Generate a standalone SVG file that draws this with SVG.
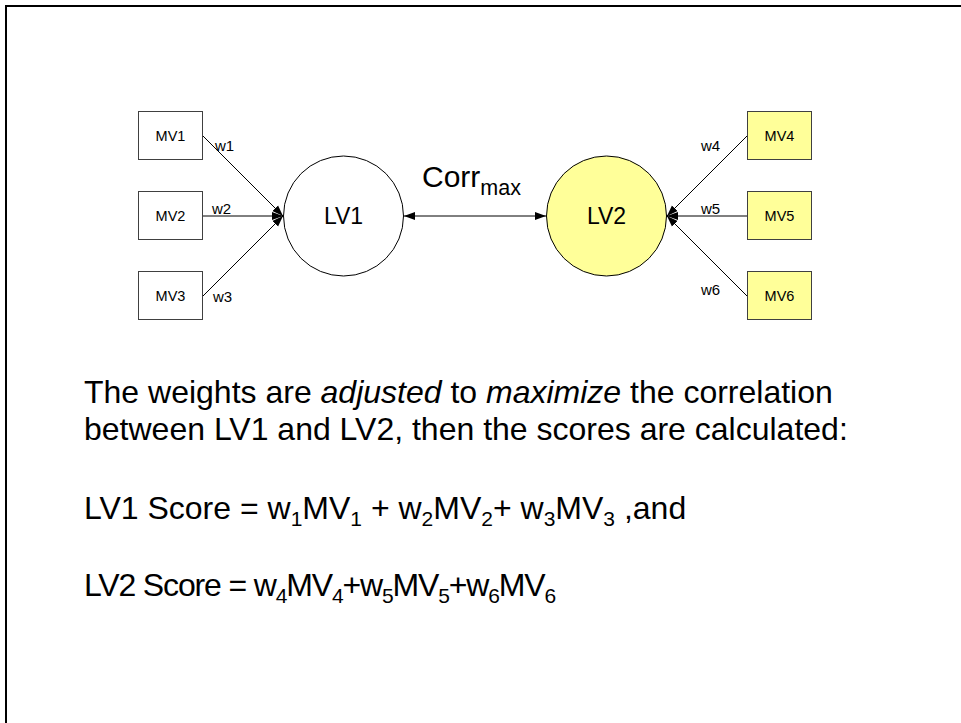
<svg xmlns="http://www.w3.org/2000/svg" width="961" height="723" viewBox="0 0 961 723">
<style>
text{font-family:"Liberation Sans",Arial,sans-serif;fill:#000}
.box{fill:#fff;stroke:#404040;stroke-width:1}
.ybox{fill:#ffff99;stroke:#404040;stroke-width:1}
.mv{font-size:14.5px;text-anchor:middle}
.w{font-size:15px}
.lv{font-size:23px;text-anchor:middle}
.edge{stroke:#000;stroke-width:1;fill:none;marker-end:url(#ah)}
.main{font-size:32px}
</style>
<defs>
<marker id="ah" markerUnits="userSpaceOnUse" markerWidth="11" markerHeight="9" refX="11" refY="4.5" orient="auto-start-reverse">
<path d="M0,0.5 L11,4.5 L0,8.5 z" fill="#000"/>
</marker>
</defs>
<rect x="6" y="6" width="980" height="740" fill="#fff" stroke="#000" stroke-width="2"/>
<g id="connectors">
<line class="edge" x1="203" y1="136" x2="283" y2="216"/>
<line class="edge" x1="203" y1="216" x2="283" y2="216"/>
<line class="edge" x1="203" y1="296" x2="283" y2="216"/>
<line class="edge" x1="747" y1="136" x2="667" y2="216"/>
<line class="edge" x1="747" y1="216" x2="667" y2="216"/>
<line class="edge" x1="747" y1="296" x2="667" y2="216"/>
<line class="edge" x1="404" y1="216" x2="546" y2="216" style="marker-start:url(#ah)"/>
<text class="w" x="215" y="151">w1</text>
<text class="w" x="212" y="214">w2</text>
<text class="w" x="213" y="302">w3</text>
<text class="w" x="701" y="151">w4</text>
<text class="w" x="701" y="214">w5</text>
<text class="w" x="701" y="295">w6</text>
<text x="422" y="187" font-size="30">Corr<tspan font-size="21.5" dy="8">max</tspan></text>
</g>
<g id="MV1"><rect class="box" x="138.5" y="111.5" width="64" height="48"/><text class="mv" x="170.5" y="141">MV1</text></g>
<g id="MV2"><rect class="box" x="138.5" y="191.5" width="64" height="48"/><text class="mv" x="170.5" y="221">MV2</text></g>
<g id="MV3"><rect class="box" x="138.5" y="271.5" width="64" height="48"/><text class="mv" x="170.5" y="301">MV3</text></g>
<g id="MV4"><rect class="ybox" x="747.5" y="111.5" width="64" height="48"/><text class="mv" x="779.5" y="141">MV4</text></g>
<g id="MV5"><rect class="ybox" x="747.5" y="191.5" width="64" height="48"/><text class="mv" x="779.5" y="221">MV5</text></g>
<g id="MV6"><rect class="ybox" x="747.5" y="271.5" width="64" height="48"/><text class="mv" x="779.5" y="301">MV6</text></g>
<g id="LV1"><circle cx="343.5" cy="216" r="60" fill="#fff" stroke="#000" stroke-width="1"/><text class="lv" x="343.5" y="224">LV1</text></g>
<g id="LV2"><circle cx="606.5" cy="216" r="60" fill="#ffff99" stroke="#000" stroke-width="1"/><text class="lv" x="606.5" y="224">LV2</text></g>
<g id="caption">
<text class="main" x="84" y="403">The weights are <tspan font-style="italic">adjusted</tspan> to <tspan font-style="italic">maximize</tspan> the correlation</text>
<text class="main" x="84" y="440">between LV1 and LV2, then the scores are calculated:</text>
<text class="main" x="84" y="519">LV1 Score = w<tspan font-size="21" dy="7">1</tspan><tspan dy="-7">MV</tspan><tspan font-size="21" dy="7">1</tspan><tspan dy="-7"> + w</tspan><tspan font-size="21" dy="7">2</tspan><tspan dy="-7">MV</tspan><tspan font-size="21" dy="7">2</tspan><tspan dy="-7">+ w</tspan><tspan font-size="21" dy="7">3</tspan><tspan dy="-7">MV</tspan><tspan font-size="21" dy="7">3</tspan><tspan dy="-7"> ,and</tspan></text>
<text class="main" x="84" y="596" letter-spacing="-1.15">LV2 Score = w<tspan font-size="21" dy="7">4</tspan><tspan dy="-7">MV</tspan><tspan font-size="21" dy="7">4</tspan><tspan dy="-7">+w</tspan><tspan font-size="21" dy="7">5</tspan><tspan dy="-7">MV</tspan><tspan font-size="21" dy="7">5</tspan><tspan dy="-7">+w</tspan><tspan font-size="21" dy="7">6</tspan><tspan dy="-7">MV</tspan><tspan font-size="21" dy="7">6</tspan></text>
</g>
</svg>
